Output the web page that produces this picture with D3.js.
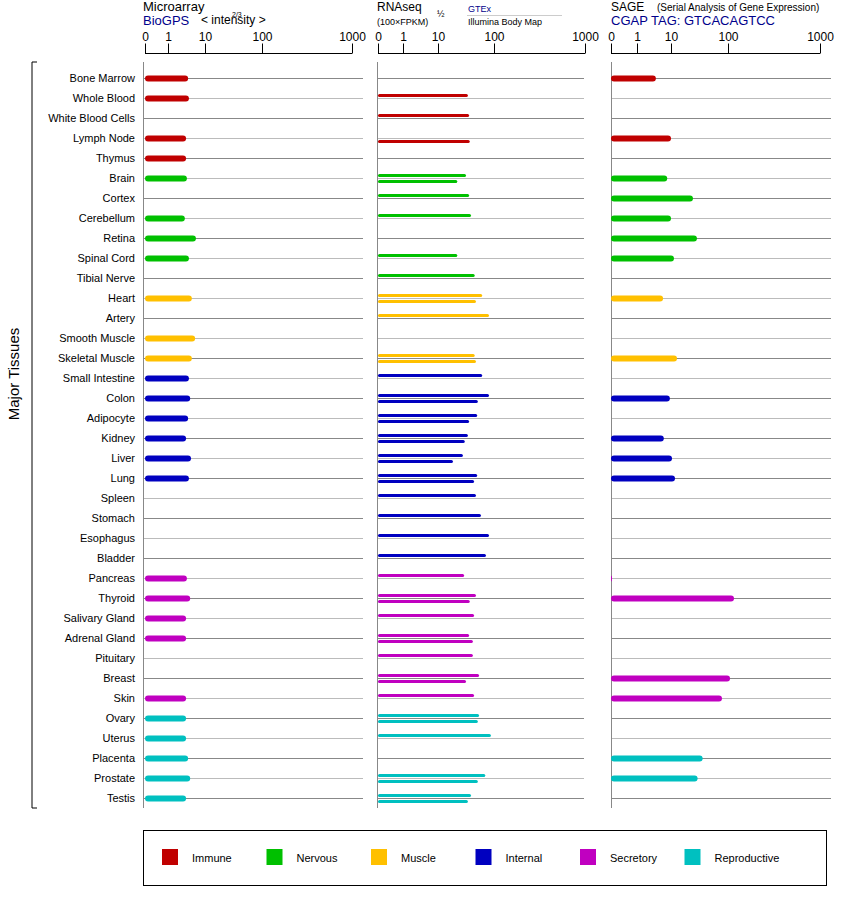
<!DOCTYPE html>
<html><head><meta charset="utf-8">
<script src="https://cdn.jsdelivr.net/npm/d3@7"></script>
<style>body{margin:0;background:#fff;font-family:"Liberation Sans",Arial,sans-serif}</style>
</head><body><svg id="chart" width="842" height="900"></svg>
<script>
var tissues = ["Bone Marrow","Whole Blood","White Blood Cells","Lymph Node","Thymus","Brain","Cortex","Cerebellum","Retina","Spinal Cord","Tibial Nerve","Heart","Artery","Smooth Muscle","Skeletal Muscle","Small Intestine","Colon","Adipocyte","Kidney","Liver","Lung","Spleen","Stomach","Esophagus","Bladder","Pancreas","Thyroid","Salivary Gland","Adrenal Gland","Pituitary","Breast","Skin","Ovary","Uterus","Placenta","Prostate","Testis"];
var groups = ["Immune","Immune","Immune","Immune","Immune","Nervous","Nervous","Nervous","Nervous","Nervous","Nervous","Muscle","Muscle","Muscle","Muscle","Internal","Internal","Internal","Internal","Internal","Internal","Internal","Internal","Internal","Internal","Secretory","Secretory","Secretory","Secretory","Secretory","Secretory","Secretory","Reproductive","Reproductive","Reproductive","Reproductive","Reproductive"];
var groupNames = ["Immune","Nervous","Muscle","Internal","Secretory","Reproductive"];
var groupColors = ["#c00000","#00c000","#ffc000","#0000c0","#c000c0","#00c0c0"];
var microarray = [5.9,6.1,null,5.4,5.4,5.6,null,5.1,7.8,6.1,null,6.8,null,7.6,6.8,6.1,6.4,5.9,5.4,6.6,6.1,null,null,null,null,5.6,6.4,5.4,5.4,null,null,5.4,5.4,5.4,5.9,6.4,5.4];
var rnaGtex = [null,58,60,null,null,55,60,63,null,41,69,81,92,null,69,81,92,73,58,50,73,71,79,92,87,52,71,68,60,66,76,68,76,95,null,86,63];
var rnaBodyMap = [null,null,null,61,null,41,null,null,null,null,null,71,null,null,71,null,74,60,53,34,68,null,null,null,null,null,61,null,66,null,55,null,74,null,null,74,58];
var sage = [6.0,null,null,10,null,9,44.7,10,51,14.7,null,7.9,null,null,19.5,null,9.7,null,8.1,11.6,16.3,null,null,null,null,0.04,159,null,null,null,120,90.5,null,null,60,52,null];
var ticks = [0,1,10,100,1000];

var svg = d3.select("#chart");
var y = d3.scalePoint().domain(tissues).range([78,798]);
var color = d3.scaleOrdinal().domain(groupNames).range(groupColors);

var panels = [
  {x0:143, x1:363, range:[145,168,205,262,352]},
  {x0:377, x1:584, range:[378,403,438,494,585]},
  {x0:611, x1:831, range:[611,637,671,728,820]}
];
panels.forEach(function(p){
  p.x = d3.scaleLinear().domain(ticks).range(p.range);
  var g = svg.append("g");
  g.selectAll(".grid").data(tissues).enter().append("line")
    .attr("x1", p.x0).attr("x2", p.x1)
    .attr("y1", d=>y(d)+0.5).attr("y2", d=>y(d)+0.5)
    .attr("stroke", (d,i)=> i%2==0 ? "#888" : "#bbb").attr("stroke-width",1);
  g.append("line").attr("x1",p.x0+0.5).attr("x2",p.x0+0.5).attr("y1",62).attr("y2",808).attr("stroke","#888");
  var ax = g.append("g").attr("transform","translate(0,53.5)")
    .call(d3.axisTop(p.x).tickValues(ticks).tickFormat(d3.format("d")).tickSize(10));
  ax.select(".domain").attr("d","M"+p.range[0]+",0H"+p.range[4]).attr("stroke","#000");
  ax.selectAll("text").attr("font-size",12).attr("font-family","Liberation Sans,Arial").attr("fill","#000");
});

function bars(p, vals, off, h){
  svg.append("g").selectAll("rect").data(vals.map((v,i)=>[i,v]).filter(d=>d[1]!=null)).enter().append("rect")
    .attr("x", p.x(0)).attr("y", d=>y(tissues[d[0]])+off-h/2)
    .attr("width", d=>Math.max(1,p.x(d[1])-p.x(0))).attr("height", h)
    .attr("rx", h/2)
    .attr("fill", d=>color(groups[d[0]]));
}
bars(panels[0], microarray, 0.5, 6);
bars(panels[1], rnaGtex, -2.5, 3);
bars(panels[1], rnaBodyMap, 3.5, 3);
bars(panels[2], sage, 0.5, 6);

svg.append("g").selectAll("text").data(tissues).enter().append("text")
  .attr("x",135).attr("y",d=>y(d)+4).attr("text-anchor","end").attr("font-size",11).text(d=>d);

svg.append("path").attr("d","M37,62H32V808H37").attr("fill","none").attr("stroke","#000");
svg.append("text").attr("transform","translate(19,374) rotate(-90)").attr("text-anchor","middle").attr("font-size",15).text("Major Tissues");

function t(x,yy,s,size,fill){return svg.append("text").attr("x",x).attr("y",yy).attr("font-size",size).attr("fill",fill||"#000").text(s);}
t(143,11,"Microarray",13);
t(143,25,"BioGPS",13,"#00008b");
t(201,24,"< intensity >",12);
t(232,17,"2/3",7);
t(377,11,"RNAseq",12);
t(377,25,"(100×FPKM)",9);
t(437,17,"½",9);
t(468,12,"GTEx",9,"#00008b");
svg.append("line").attr("x1",467).attr("x2",562).attr("y1",15.5).attr("y2",15.5).attr("stroke","#ccc");
t(468,25,"Illumina Body Map",9);
t(611,11,"SAGE",12);
t(657,11,"(Serial Analysis of Gene Expression)",10);
t(611,25,"CGAP TAG: GTCACAGTCC",13,"#00008b");

svg.append("rect").attr("x",143.5).attr("y",830.5).attr("width",683).attr("height",55).attr("fill","none").attr("stroke","#000");
var lg = svg.append("g").selectAll("g").data(groupNames).enter().append("g")
  .attr("transform",(d,i)=>"translate("+(162+i*104.5)+",849)");
lg.append("rect").attr("width",16).attr("height",16).attr("fill",d=>color(d));
lg.append("text").attr("x",30).attr("y",13).attr("font-size",11).text(d=>d);
</script></body></html>
